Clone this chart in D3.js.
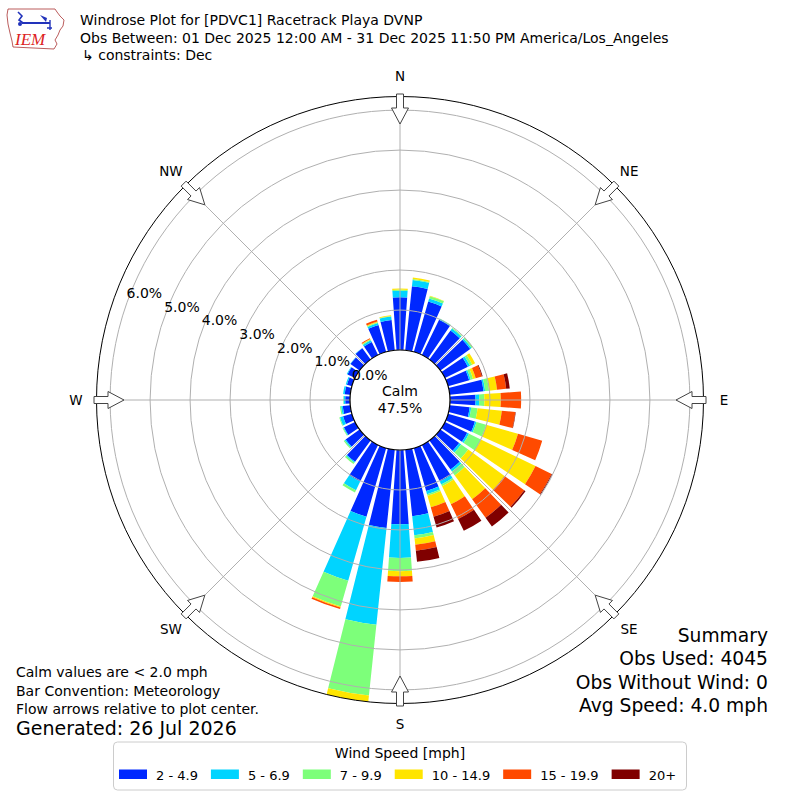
<!DOCTYPE html>
<html><head><meta charset="utf-8">
<script src="https://cdn.jsdelivr.net/npm/d3@7/dist/d3.min.js"></script>
<style>
body{margin:0;background:#fff}
text{font-family:"DejaVu Sans",sans-serif;fill:#000}
</style>
</head><body>
<svg id="chart" width="800" height="800"></svg>
<script>
// ---------------- DATA ----------------
const directions = [0,10,20,30,40,50,60,70,80,90,100,110,120,130,140,150,160,170,
                    180,190,200,210,220,230,240,250,260,270,280,290,300,310,320,330,340,350];
const speedBins = ["2 - 4.9","5 - 6.9","7 - 9.9","10 - 14.9","15 - 19.9","20+"];
// percent of observations per direction, per speed bin
const s2to5   = [1.32,1.61,1.31,0.98,0.90,0.92,0.64,0.55,0.85,0.64,0.50,0.70,0.62,0.58,0.90,1.02,1.12,1.67,
                 1.86,1.97,1.79,1.02,0.66,0.43,0.31,0.23,0.19,0.12,0.14,0.13,0.21,0.28,0.35,0.36,0.70,0.76];
const s5to7   = [0.16,0.16,0.08,0.03,0.06,0.04,0.06,0.04,0.04,0.09,0.04,0.04,0.05,0.06,0.06,0.08,0.08,0.48,
                 0.84,2.43,1.66,0.24,0.03,0.03,0.02,0.08,0.04,0.04,0.04,0.03,0.02,0.01,0.01,0.05,0.05,0.09];
const s7to10  = [0.03,0.02,0.06,0.01,0.02,0.04,0.06,0.06,0.10,0.13,0.16,0.25,0.33,0.22,0.12,0.05,0.04,0.08,
                 0.33,1.78,0.67,0.06,0.04,0.03,0.02,0.02,0.03,0.01,0,0,0,0,0,0.02,0.02,0.01];
const s10to15 = [0.03,0.04,0.01,0,0,0,0.08,0.07,0.20,0.41,0.61,0.83,1.52,1.12,0.74,0.50,0.30,0.16,
                 0.13,0.16,0.03,0,0,0,0,0,0,0,0,0,0,0,0,0.02,0.02,0.02];
const s15to20 = [0,0,0,0,0,0,0,0.16,0.23,0.51,0.34,0.63,0.45,0.61,0.57,0.41,0.25,0.15,
                 0.14,0,0.04,0,0,0,0,0,0,0,0,0,0,0,0,0.02,0.05,0];
const s20plus = [0,0,0,0,0,0,0,0.02,0.09,0,0.01,0,0.02,0.04,0.27,0.33,0.28,0.28,
                 0,0,0,0,0,0,0,0,0,0,0,0,0,0,0,0,0,0];
const rTicks = [0,1,2,3,4,5,6];
const rTickLabels = ["0.0%","1.0%","2.0%","3.0%","4.0%","5.0%","6.0%"];
const compassLabels = ["N","NE","E","SE","S","SW","W","NW"];
const compassAngles = [0,45,90,135,180,225,270,315];
const calmPct = "47.5%";
const titleLines = ["Windrose Plot for [PDVC1] Racetrack Playa DVNP",
  "Obs Between: 01 Dec 2025 12:00 AM - 31 Dec 2025 11:50 PM America/Los_Angeles",
  "\u21b3 constraints: Dec"];
const noteLines = ["Calm values are < 2.0 mph","Bar Convention: Meteorology","Flow arrows relative to plot center."];
const generated = "Generated: 26 Jul 2026";
const summaryLines = ["Summary","Obs Used: 4045","Obs Without Wind: 0","Avg Speed: 4.0 mph"];
const rMax = 6.34;

// ---------------- STYLE ----------------
const binColors = ["#0028ff","#00d4ff","#7dff7a","#ffe500","#ff4a00","#800000"];
const gridColor = "#b0b0b0";

// ---------------- DRAW ----------------
const svg = d3.select("#chart");
const cx = 400, cy = 400;
const r = d3.scaleLinear().domain([0, rMax]).range([50, 303.5]);
const ang = d3.scaleLinear().domain([0, 360]).range([0, 2*Math.PI]);
const series = [s2to5, s5to7, s7to10, s10to15, s15to20, s20plus];

svg.append("clipPath").attr("id","polarClip").append("circle").attr("cx",0).attr("cy",0).attr("r",r(rMax));

const g = svg.append("g").attr("transform", `translate(${cx},${cy})`);
g.append("circle").attr("r", r(rMax)).attr("fill", "#fff");

// stacked bars
const stacked = directions.map((d,i) => {
  let acc = 0;
  return series.map((s,k) => { const a = acc; acc += s[i]; return {dir:d, k, y0:a, y1:acc}; });
}).flat().filter(d => d.y1 > d.y0);

const arc = d3.arc()
  .innerRadius(d => r(d.y0)).outerRadius(d => r(d.y1))
  .startAngle(d => ang(d.dir - 4)).endAngle(d => ang(d.dir + 4));

g.append("g").attr("clip-path","url(#polarClip)")
  .selectAll("path").data(stacked).join("path")
  .attr("d", arc).attr("fill", d => binColors[d.k]);

// grid rings (drawn over bars like matplotlib)
g.append("g").selectAll("circle").data(rTicks).join("circle")
  .attr("r", d => r(d)).attr("fill","none").attr("stroke",gridColor).attr("stroke-width",1);
// radial grid
g.append("g").selectAll("line").data(compassAngles).join("line")
  .attr("x1", d => r(0)*Math.sin(ang(d))).attr("y1", d => -r(0)*Math.cos(ang(d)))
  .attr("x2", d => r(rMax)*Math.sin(ang(d))).attr("y2", d => -r(rMax)*Math.cos(ang(d)))
  .attr("stroke",gridColor).attr("stroke-width",1);

// calm circle
g.append("circle").attr("r", r(0)).attr("fill","#fff").attr("stroke","#000").attr("stroke-width",1.2);
g.append("text").attr("x",0).attr("y",-4).attr("text-anchor","middle").attr("font-size",14).text("Calm");
g.append("text").attr("x",0).attr("y",13).attr("text-anchor","middle").attr("font-size",14).text(calmPct);

// outer spine
g.append("circle").attr("r", r(rMax)).attr("fill","none").attr("stroke","#000").attr("stroke-width",1);

// radial tick labels
const phi = 20 * Math.PI/180;
g.append("g").selectAll("text").data(rTicks).join("text")
  .attr("x", d => -r(d)*Math.cos(phi) - 1)
  .attr("y", d => -r(d)*Math.sin(phi) - 3)
  .attr("font-size",14).attr("text-anchor","start")
  .text((d,i) => rTickLabels[i]);

// compass arrows
function arrowPts(theta){
  const t = ang(theta), s = Math.sin(t), c = Math.cos(t);
  const R = r(rMax);
  const pts = [[-3.5,R+2.5],[3.5,R+2.5],[3.5,R-11.5],[8.5,R-11.5],[0,R-27.5],[-8.5,R-11.5],[-3.5,R-11.5]];
  return pts.map(([w,u]) => [u*s + w*c, -u*c + w*s]);
}
g.append("g").selectAll("path").data(compassAngles).join("path")
  .attr("d", d => d3.line()(arrowPts(d)) + "Z")
  .attr("fill","#fff").attr("stroke","#444").attr("stroke-width",1);

// compass labels
g.append("g").selectAll("text").data(compassAngles).join("text")
  .attr("x", d => 324*Math.sin(ang(d))).attr("y", d => -324*Math.cos(ang(d)))
  .attr("text-anchor","middle").attr("dominant-baseline","central").attr("font-size",13.5)
  .text((d,i) => compassLabels[i]);

// title
svg.append("g").selectAll("text").data(titleLines).join("text")
  .attr("x", (d,i) => i === 2 ? 82 : 80).attr("y", (d,i) => 25 + i*17.5)
  .attr("font-size",14).text(d => d);

// logo
const logo = svg.append("g");
logo.append("path")
  .attr("d","M8,9 L55,9 L57,12 L60,16 L64,20 L63,26 L60,30 L58,35 L55,40 L57,44 L54,49 L13,47 L12,41 L10,33 L8,24 L7,15 Z")
  .attr("fill","none").attr("stroke","#aa3333").attr("stroke-width",0.8);
logo.append("path").attr("d","M22,23 L50,23").attr("stroke","#2233bb").attr("stroke-width",2);
logo.append("path").attr("d","M18,12 L22,16 L19,20 L23,23").attr("fill","none").attr("stroke","#2233bb").attr("stroke-width",1.6);
logo.append("path").attr("d","M40,15 L47,18 L46,22 Z").attr("fill","#2233bb");
logo.append("path").attr("d","M50,20 L50,30 M47,28 L52,28").attr("stroke","#2233bb").attr("stroke-width",1.4);
logo.append("circle").attr("cx",20).attr("cy",24).attr("r",2).attr("fill","#2233bb");
logo.append("text").attr("x",15).attr("y",45).attr("font-size",17)
  .style("font-family","'Liberation Serif',serif").style("font-style","italic").style("fill","#dd2222").text("IEM");

// notes bottom-left
svg.append("g").selectAll("text").data(noteLines).join("text")
  .attr("x",16).attr("y",(d,i) => 677 + i*18.5).attr("font-size",14).text(d => d);
svg.append("text").attr("x",16).attr("y",735).attr("font-size",19).text(generated);

// summary bottom-right
svg.append("g").selectAll("text").data(summaryLines).join("text")
  .attr("x",768).attr("y",(d,i) => 642 + i*23.3).attr("text-anchor","end")
  .attr("font-size",18.7).text(d => d);

// legend
const lg = svg.append("g");
lg.append("rect").attr("x",113.5).attr("y",742).attr("width",573).attr("height",48).attr("rx",4)
  .attr("fill","#fff").attr("stroke","#cccccc").attr("stroke-width",1);
lg.append("text").attr("x",400).attr("y",758).attr("text-anchor","middle").attr("font-size",14).text("Wind Speed [mph]");
let lx = 119;
speedBins.forEach((lab,i) => {
  lg.append("rect").attr("x",lx).attr("y",769.5).attr("width",28).attr("height",9.5).attr("fill",binColors[i]);
  const t = lg.append("text").attr("x",lx+37).attr("y",779.5).attr("font-size",13).text(lab);
  const w = t.node().getComputedTextLength();
  lx = lx + 37 + w + 13;
});
</script>
</body></html>
